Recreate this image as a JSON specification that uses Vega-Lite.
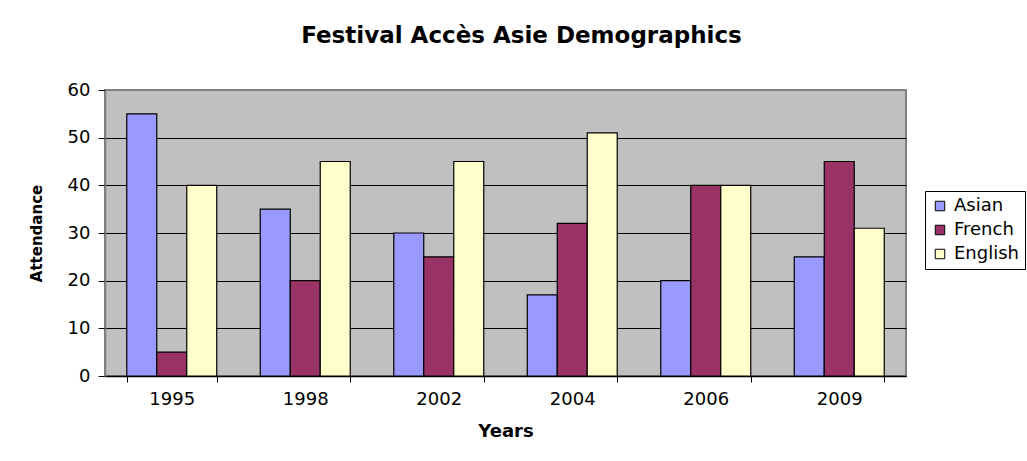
{
  "$schema": "https://vega.github.io/schema/vega-lite/v6.json",
  "width": 801,
  "height": 286,
  "autosize": {"type": "none"},
  "padding": {"left": 105, "top": 90, "right": 121, "bottom": 85},
  "background": "white",
  "title": {
    "text": "Festival Accès Asie Demographics",
    "font": "DejaVu Sans",
    "fontSize": 23,
    "fontWeight": "bold",
    "color": "black",
    "anchor": "middle",
    "dx": 16,
    "offset": 33
  },
  "data": {
    "values": [
      {"Year": "1995", "Group": "Asian", "Attendance": 55},
      {"Year": "1995", "Group": "French", "Attendance": 5},
      {"Year": "1995", "Group": "English", "Attendance": 40},
      {"Year": "1998", "Group": "Asian", "Attendance": 35},
      {"Year": "1998", "Group": "French", "Attendance": 20},
      {"Year": "1998", "Group": "English", "Attendance": 45},
      {"Year": "2002", "Group": "Asian", "Attendance": 30},
      {"Year": "2002", "Group": "French", "Attendance": 25},
      {"Year": "2002", "Group": "English", "Attendance": 45},
      {"Year": "2004", "Group": "Asian", "Attendance": 17},
      {"Year": "2004", "Group": "French", "Attendance": 32},
      {"Year": "2004", "Group": "English", "Attendance": 51},
      {"Year": "2006", "Group": "Asian", "Attendance": 20},
      {"Year": "2006", "Group": "French", "Attendance": 40},
      {"Year": "2006", "Group": "English", "Attendance": 40},
      {"Year": "2009", "Group": "Asian", "Attendance": 25},
      {"Year": "2009", "Group": "French", "Attendance": 45},
      {"Year": "2009", "Group": "English", "Attendance": 31}
    ]
  },
  "mark": {"type": "bar", "stroke": "black", "strokeWidth": 1.2},
  "encoding": {
    "x": {
      "field": "Year",
      "type": "nominal",
      "scale": {"paddingInner": 0.326, "paddingOuter": 0.163},
      "axis": {
        "title": "Years",
        "titleFont": "DejaVu Sans",
        "titleFontSize": 18,
        "titleFontWeight": "bold",
        "titleColor": "black",
        "titlePadding": 14,
        "labelAngle": 0,
        "labelFont": "DejaVu Sans",
        "labelFontSize": 18,
        "labelColor": "black",
        "labelPadding": 8,
        "tickBand": "extent",
        "tickColor": "black",
        "tickSize": 6,
        "domainColor": "black",
        "domainWidth": 1.5,
        "grid": false
      }
    },
    "xOffset": {
      "field": "Group",
      "type": "nominal",
      "sort": ["Asian", "French", "English"],
      "scale": {"paddingInner": 0, "paddingOuter": 0}
    },
    "y": {
      "field": "Attendance",
      "type": "quantitative",
      "scale": {"domain": [0, 60], "nice": false},
      "axis": {
        "title": "Attendance",
        "titleFont": "DejaVu Sans",
        "titleFontSize": 15,
        "titleFontWeight": "bold",
        "titleColor": "black",
        "titlePadding": 23,
        "values": [0, 10, 20, 30, 40, 50, 60],
        "labelFont": "DejaVu Sans",
        "labelFontSize": 18,
        "labelColor": "black",
        "labelPadding": 8,
        "tickColor": "black",
        "tickSize": 7,
        "domainColor": "#808080",
        "domainWidth": 1.5,
        "grid": true,
        "gridColor": {"condition": {"test": "datum.value == 60", "value": "#808080"}, "value": "black"},
        "gridWidth": 1,
        "gridOpacity": 1
      }
    },
    "color": {
      "field": "Group",
      "type": "nominal",
      "sort": ["Asian", "French", "English"],
      "scale": {"domain": ["Asian", "French", "English"], "range": ["#9999FF", "#993366", "#FFFFCC"]},
      "legend": {
        "title": null,
        "orient": "none",
        "legendX": 820,
        "legendY": 101,
        "strokeColor": "black",
        "fillColor": "white",
        "padding": 6,
        "symbolType": "square",
        "symbolSize": 90,
        "symbolStrokeColor": "black",
        "symbolStrokeWidth": 1,
        "symbolOpacity": 1,
        "labelFont": "DejaVu Sans",
        "labelFontSize": 18,
        "labelColor": "black",
        "rowPadding": 6,
        "labelOffset": 5
      }
    }
  },
  "config": {
    "view": {"fill": "#C0C0C0", "stroke": "#808080", "strokeWidth": 2}
  }
}
